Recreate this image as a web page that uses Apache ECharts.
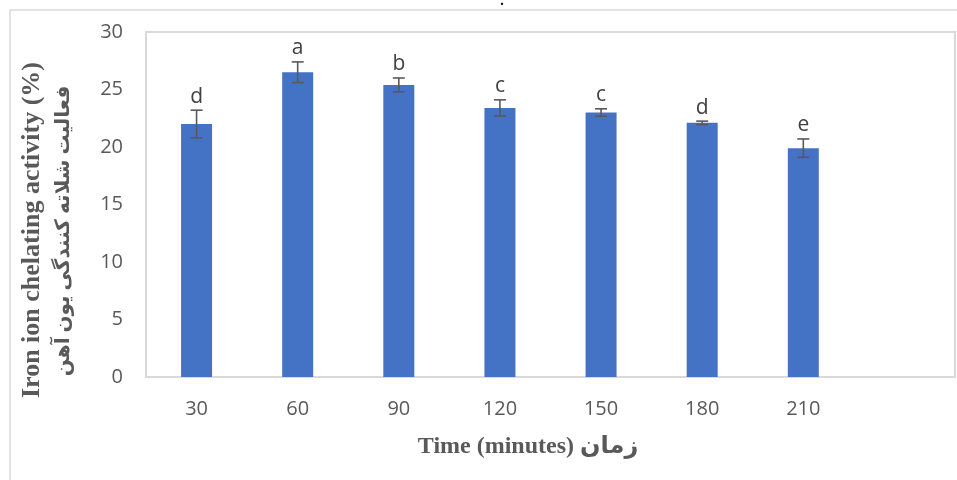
<!DOCTYPE html>
<html>
<head>
<meta charset="utf-8">
<script src="https://cdn.jsdelivr.net/npm/echarts@6/dist/echarts.min.js"></script>
<style>
html,body{margin:0;padding:0;background:#fff;}
#chart{width:957px;height:480px;}
</style>
</head>
<body>
<div id="chart"></div>
<script>
const categories = ['30', '60', '90', '120', '150', '180', '210', ''];
const values = [22.0, 26.5, 25.4, 23.4, 23.0, 22.1, 19.9];
const errors = [1.2, 0.9, 0.6, 0.7, 0.32, 0.15, 0.8];
const letters = ['d', 'a', 'b', 'c', 'c', 'd', 'e'];
const yTitleEn = 'Iron ion chelating activity (%)';
const yTitleFa = 'فعالیت شلاته کنندگی یون آهن';
const xTitle = 'Time (minutes) زمان';

const chart = echarts.init(document.getElementById('chart'), null, {renderer: 'canvas'});
const errData = values.map((v, i) => [i, v, errors[i], letters[i]]);

const titleFont = '"Liberation Serif", "DejaVu Serif", "DejaVu Sans", serif';

chart.setOption({
  backgroundColor: '#ffffff',
  animation: false,
  grid: {
    left: 146, right: 2, top: 32, bottom: 103,
    show: true, borderColor: '#d9d9d9', borderWidth: 2, backgroundColor: 'transparent'
  },
  xAxis: {
    type: 'category',
    data: categories,
    axisLine: {show: false},
    axisTick: {show: false},
    axisLabel: {color: '#595959', fontSize: 20, fontFamily: '"Open Sans", sans-serif', margin: 22, interval: 0}
  },
  yAxis: {
    type: 'value',
    min: 0, max: 30, interval: 5,
    axisLine: {show: false},
    axisTick: {show: false},
    splitLine: {show: false},
    axisLabel: {color: '#595959', fontSize: 20, fontFamily: '"Open Sans", sans-serif', margin: 23,
      padding: [3, 0, 0, 0]}
  },
  series: [
    {
      type: 'bar',
      data: values,
      barWidth: 31,
      itemStyle: {color: '#4472C4'}
    },
    {
      type: 'custom',
      data: errData,
      z: 10,
      renderItem: function (params, api) {
        const i = api.value(0), v = api.value(1), e = api.value(2);
        const top = api.coord([i, v + e]);
        const bot = api.coord([i, v - e]);
        const hw = 6;
        const st = {stroke: '#595959', lineWidth: 1.6};
        return {
          type: 'group',
          children: [
            {type: 'line', shape: {x1: top[0], y1: top[1], x2: bot[0], y2: bot[1]}, style: st},
            {type: 'line', shape: {x1: top[0] - hw, y1: top[1], x2: top[0] + hw, y2: top[1]}, style: st},
            {type: 'line', shape: {x1: bot[0] - hw, y1: bot[1], x2: bot[0] + hw, y2: bot[1]}, style: st},
            {type: 'text', x: top[0], y: top[1] - 3,
              style: {text: letters[params.dataIndex], textAlign: 'center', textVerticalAlign: 'bottom',
                fill: '#404040', fontSize: 21, fontFamily: '"Open Sans", sans-serif'}}
          ]
        };
      }
    }
  ],
  graphic: [
    {type: 'rect', shape: {x: 10, y: 10, width: 980, height: 500},
      style: {fill: 'none', stroke: '#d9d9d9', lineWidth: 1.5}, silent: true},
    {type: 'text', x: 32, y: 230, rotation: Math.PI / 2,
      style: {text: yTitleEn, textAlign: 'center', textVerticalAlign: 'middle',
        fill: '#595959', fontSize: 26, fontWeight: 'bold', fontFamily: titleFont}},
    {type: 'text', x: 64, y: 231, rotation: Math.PI / 2,
      style: {text: yTitleFa, textAlign: 'center', textVerticalAlign: 'middle',
        fill: '#595959', fontSize: 20, fontWeight: 'bold', fontFamily: titleFont}},
    {type: 'text', x: 528, y: 447,
      style: {text: xTitle, textAlign: 'center', textVerticalAlign: 'middle',
        fill: '#595959', fontSize: 24, fontWeight: 'bold', fontFamily: titleFont}},
    {type: 'text', x: 502, y: -6,
      style: {text: '.', textAlign: 'center', textVerticalAlign: 'top',
        fill: '#000', fontSize: 14, fontWeight: 'bold', fontFamily: titleFont}}
  ]
});
</script>
</body>
</html>
